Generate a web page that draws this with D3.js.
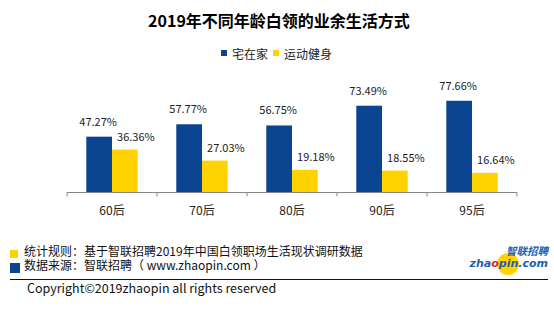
<!DOCTYPE html>
<html>
<head>
<meta charset="utf-8">
<script src="https://cdn.jsdelivr.net/npm/d3@7"></script>
<style>
  body { margin: 0; background: #fff; }
  svg text { font-family: "Noto Sans CJK SC", "Noto Sans", sans-serif; }
</style>
</head>
<body>
<div class="chart-container"></div>
<script>
const width = 554;
const height = 323;

// data
const categories = ['60后', '70后', '80后', '90后', '95后'];
const seriesNames = ['宅在家', '运动健身'];
const stayHome = [47.27, 57.77, 56.75, 73.49, 77.66];
const sports = [36.36, 27.03, 19.18, 18.55, 16.64];
const colors = ['#0B4592', '#FFD200'];

const svg = d3.select('.chart-container').append('svg')
  .attr('width', width)
  .attr('height', height);

// title
svg.append('text')
  .attr('x', 279).attr('y', 27)
  .attr('text-anchor', 'middle')
  .style('font-size', '16px').style('font-weight', 'bold')
  .text('2019年不同年龄白领的业余生活方式');

// legend
const legend = svg.append('g').attr('transform', 'translate(221,50)');
let lx = 0;
seriesNames.forEach((name, i) => {
  legend.append('rect').attr('x', lx).attr('y', 0).attr('width', 6).attr('height', 6).attr('fill', colors[i]);
  const t = legend.append('text').attr('x', lx + 11).attr('y', 9)
    .style('font-size', '12px').attr('fill', '#222').text(name);
  lx += 11 + t.node().getComputedTextLength() + 5;
});

// scales
const scaleX = d3.scaleBand().domain(categories).range([67, 517]);
const scaleSub = d3.scaleBand().domain(seriesNames).range([0, scaleX.bandwidth()])
  .paddingInner(0).paddingOuter(0.75);
const scaleY = d3.scaleLinear().domain([0, 100]).range([192.5, 74.4]);

const rows = categories.map((c, i) => ({ cat: c, values: [stayHome[i], sports[i]] }));

const groups = svg.append('g').selectAll('g').data(rows).join('g')
  .attr('transform', (d) => 'translate(' + scaleX(d.cat) + ',0)');

groups.selectAll('rect').data((d) => d.values.map((v, i) => ({ v: v, s: seriesNames[i], i: i })))
  .join('rect')
  .attr('x', (d) => scaleSub(d.s))
  .attr('y', (d) => scaleY(d.v))
  .attr('width', scaleSub.bandwidth())
  .attr('height', (d) => scaleY(0) - scaleY(d.v))
  .attr('fill', (d) => colors[d.i]);

groups.selectAll('text.lbl').data((d) => d.values.map((v, i) => ({ v: v, s: seriesNames[i], i: i })))
  .join('text')
  .attr('class', 'lbl')
  .attr('x', (d) => scaleSub(d.s) + scaleSub.bandwidth() / 2 + (d.i === 0 ? -1 : 11))
  .attr('y', (d) => scaleY(d.v) - (d.i === 0 ? 11 : 9))
  .attr('text-anchor', 'middle')
  .style('font-size', '11px').attr('fill', '#222')
  .text((d) => d.v.toFixed(2) + '%');

// x axis
const axis = svg.append('g')
  .attr('transform', 'translate(0,' + scaleY(0) + ')')
  .call(d3.axisBottom(scaleX).tickSize(0).tickPadding(14));
axis.select('.domain').attr('stroke', '#888').attr('d', 'M67,0H517');
axis.selectAll('text').style('font-size', '12px').attr('fill', '#222')
  .style('font-family', '"Noto Sans CJK SC", sans-serif');
const boundaries = categories.map((c) => scaleX(c)).concat([scaleX.range()[1]]);
axis.selectAll('line.bound').data(boundaries).join('line')
  .attr('class', 'bound')
  .attr('x1', (d) => d).attr('x2', (d) => d)
  .attr('y1', 0).attr('y2', 4)
  .attr('stroke', '#888');

// footer notes
svg.append('rect').attr('x', 10).attr('y', 250).attr('width', 8).attr('height', 8).attr('fill', colors[1]);
svg.append('rect').attr('x', 10).attr('y', 263).attr('width', 10).attr('height', 10).attr('fill', colors[0]);
svg.append('text').attr('x', 24).attr('y', 255.5).style('font-size', '12px').attr('fill', '#111')
  .text('统计规则：基于智联招聘2019年中国白领职场生活现状调研数据');
svg.append('text').attr('x', 24).attr('y', 269.5).style('font-size', '12px').attr('fill', '#111')
  .text('数据来源：智联招聘（ www.zhaopin.com ）');
svg.append('line').attr('x1', 10).attr('x2', 548).attr('y1', 279.5).attr('y2', 279.5)
  .attr('stroke', '#111');
svg.append('text').attr('x', 27).attr('y', 293).style('font-size', '12.5px').attr('fill', '#111')
  .text('Copyright©2019zhaopin all rights reserved');

// logo
const logo = svg.append('g');
logo.append('circle').attr('cx', 508).attr('cy', 264).attr('r', 11).attr('fill', '#FFD200');
logo.append('text').attr('x', 548).attr('y', 255).attr('text-anchor', 'end')
  .style('font-size', '10.5px').style('font-weight', 'bold').style('font-style', 'italic')
  .attr('fill', '#1F5FB0').text('智联招聘');
const zt = logo.append('text').attr('x', 548).attr('y', 267).attr('text-anchor', 'end')
  .style('font-size', '11px').style('font-weight', 'bold').style('font-style', 'italic')
  .style('font-family', '"DejaVu Sans", sans-serif').attr('fill', '#1F5FB0');
zt.append('tspan').text('zha');
zt.append('tspan').attr('fill', '#D8232A').text('o');
zt.append('tspan').text('pin.com');
</script>
</body>
</html>
